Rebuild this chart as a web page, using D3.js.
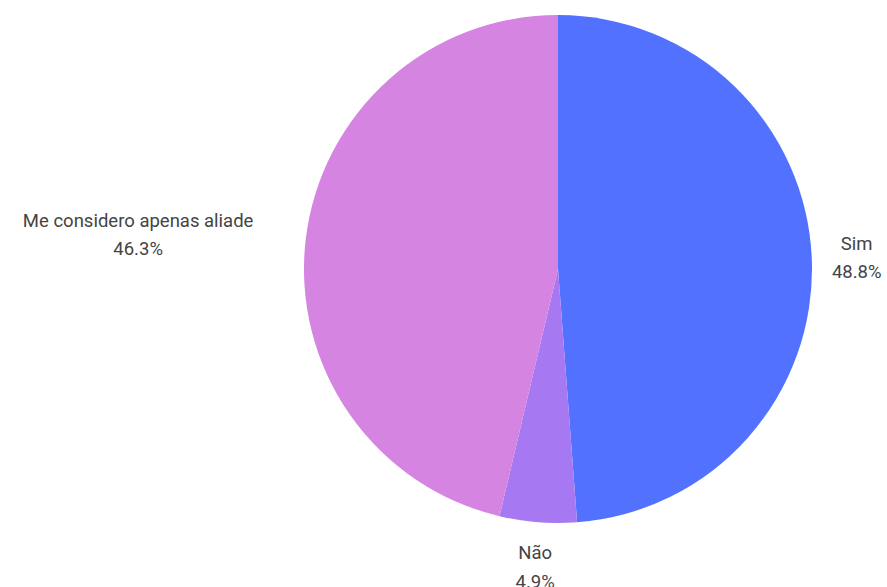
<!DOCTYPE html>
<html>
<head>
<meta charset="utf-8">
<script src="https://cdn.jsdelivr.net/npm/d3@7/dist/d3.min.js"></script>
<style>
  html, body { margin: 0; padding: 0; background: #ffffff; }
  svg { display: block; }
  text { font-family: Roboto, "Noto Sans", Arial, sans-serif; font-size: 18.5px; fill: #444444; }
</style>
</head>
<body>
<svg id="chart" width="887" height="587"></svg>
<script>
// Answers and their shares (percent), clockwise from 12 o'clock
const categories = ["Sim", "Não", "Me considero apenas aliade"];
const shares = [48.8, 4.9, 46.3];
const shareLabels = ["48.8%", "4.9%", "46.3%"];
const colors = ["#5271ff", "#a678f2", "#d584e1"];

const width = 887, height = 587;
const cx = 558, cy = 269, radius = 254;

// Label placement: anchor on a circle, then push the text block outward
const labelRadius = 265;
const pushX = 0.684, pushY = 0.82;
const lineGap = 28.5, capHeight = 13;

const svg = d3.select("#chart");
const g = svg.append("g").attr("transform", `translate(${cx},${cy})`);

const data = categories.map((c, i) => ({ name: c, value: shares[i], label: shareLabels[i], color: colors[i] }));

const pie = d3.pie().value(d => d.value).sort(null);
const arc = d3.arc().innerRadius(0).outerRadius(radius);
const arcs = pie(data);

g.selectAll("path.slice")
  .data(arcs)
  .join("path")
  .attr("class", "slice")
  .attr("d", arc)
  .attr("fill", d => d.data.color);

// Two-line labels (name, share) outside each slice
const labels = g.selectAll("g.label")
  .data(arcs)
  .join("g")
  .attr("class", "label");

labels.each(function(d) {
  const sel = d3.select(this);
  const t1 = sel.append("text").attr("text-anchor", "middle").text(d.data.name);
  const t2 = sel.append("text").attr("text-anchor", "middle").text(d.data.label);
  const w = Math.max(t1.node().getComputedTextLength(), t2.node().getComputedTextLength());
  const h = capHeight + lineGap;
  const mid = (d.startAngle + d.endAngle) / 2;
  const s = Math.sin(mid), c = Math.cos(mid);
  const px = labelRadius * s, py = -labelRadius * c;
  const bx = px + s * w * pushX;
  const by = py - c * h * pushY;
  const firstBase = by - h / 2 + capHeight;
  t1.attr("x", bx).attr("y", firstBase);
  t2.attr("x", bx).attr("y", firstBase + lineGap);
});
</script>
</body>
</html>
